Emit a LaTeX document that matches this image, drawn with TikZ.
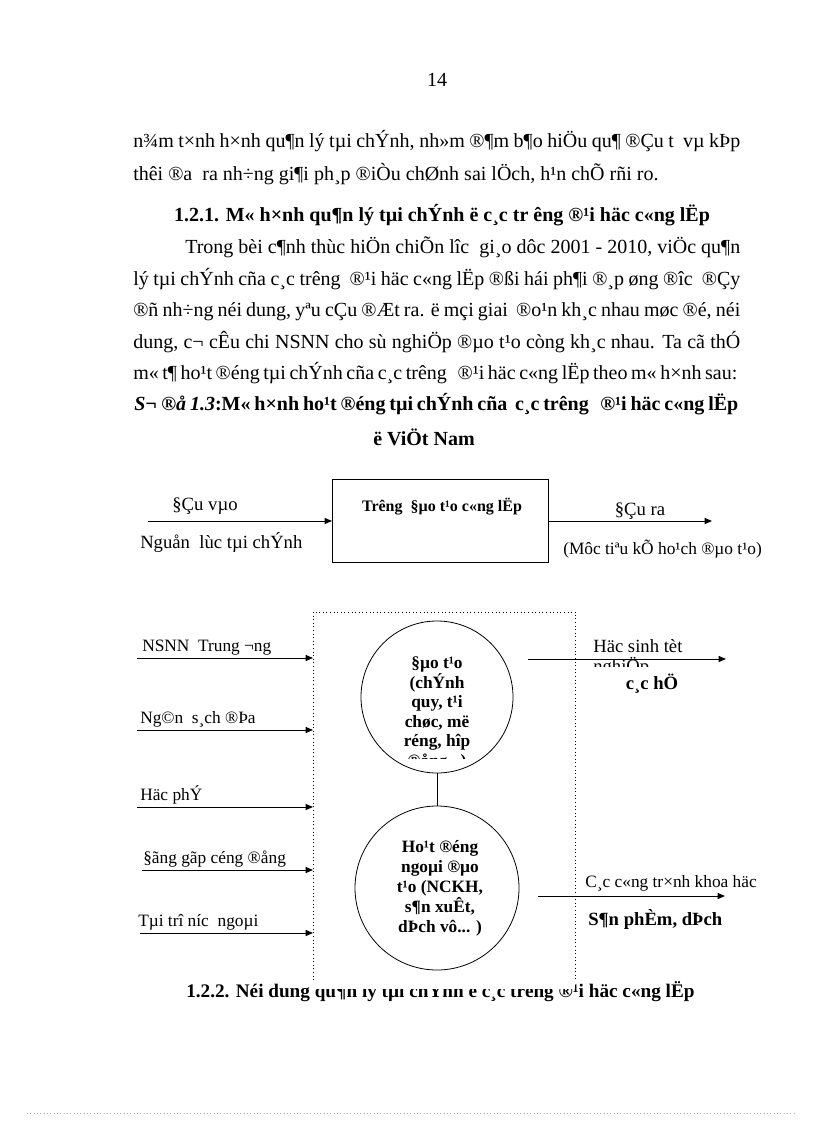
\documentclass[tikz,border=0pt]{standalone}
\usepackage{fontspec}
\setmainfont{Liberation Serif}
\usetikzlibrary{arrows.meta}
\newcommand{\bodyf}{\fontsize{15}{17}\selectfont}
\newcommand{\headtwof}{\fontsize{14.4}{16}\selectfont\bfseries}
\newcommand{\lblf}{\fontsize{13}{15}\selectfont}
\newcommand{\biglblf}{\fontsize{14}{16}\selectfont}
\newcommand{\boxf}{\fontsize{12}{14}\selectfont\bfseries}
\begin{document}
\begin{tikzpicture}[x=0.75pt,y=-0.75pt,
  txt/.style={inner sep=0pt, anchor=base west},
  ctxt/.style={inner sep=0pt, anchor=base},
  arr/.style={-{Triangle[length=5.5pt,width=4.5pt]}, line width=0.75pt},
  circ/.style={circle, draw, line width=0.6pt, inner sep=0pt}]
\useasboundingbox[fill=white] (0,0) rectangle (816,1123);

% page number
\node[ctxt, font=\bodyf] (pg) at (437,87) {14};

% first paragraph end
\node[txt, font=\bodyf] (l1) at (133,148) {\makebox[455.25pt][s]{n¾m t×nh h×nh qu¶n lý tµi chÝnh, nh»m ®¶m b¶o hiÖu qu¶ ®Çu t~~vµ kÞp}};
\node[txt, font=\bodyf] (l2) at (133,181) {thêi ®a~ ra nh÷ng gi¶i ph¸p ®iÒu chØnh sai lÖch, h¹n chÕ rñi ro.};

% heading 1.2.1
\node[ctxt, font=\bodyf\bfseries] (h1) at (442,222) {1.2.1. M« h×nh qu¶n lý tµi chÝnh ë c¸c tr êng ®¹i häc c«ng lËp};

% second paragraph
\node[txt, font=\bodyf] (p1) at (185,253) {\makebox[416.25pt][s]{Trong bèi c¶nh thùc hiÖn chiÕn lîc~ gi¸o dôc 2001 - 2010, viÖc qu¶n}};
\node[txt, font=\bodyf] (p2) at (133,285) {\makebox[455.25pt][s]{lý tµi chÝnh cña c¸c trêng~ ®¹i häc c«ng lËp ®ßi hái ph¶i ®¸p øng ®îc~ ®Çy}};
\node[txt, font=\bodyf] (p3) at (133,316) {\makebox[455.25pt][s]{®ñ nh÷ng néi dung, yªu cÇu ®Æt ra. ë mçi giai~ ®o¹n kh¸c nhau møc ®é, néi}};
\node[txt, font=\bodyf] (p4) at (133,348) {\makebox[455.25pt][s]{dung, c¬ cÊu chi NSNN cho sù nghiÖp ®µo t¹o còng kh¸c nhau. Ta cã thÓ}};
\node[txt, font=\bodyf] (p5) at (133,379) {\makebox[453pt][s]{m« t¶ ho¹t ®éng tµi chÝnh cña c¸c trêng~~ ®¹i häc c«ng lËp theo m« h×nh sau:}};

% caption
\node[txt, font=\bodyf\bfseries] (cap) at (134,410) {\makebox[453pt][s]{\textit{S¬ ®å 1.3}:M« h×nh ho¹t ®éng tµi chÝnh cña~ c¸c trêng~~ ®¹i häc c«ng lËp}};
\node[ctxt, font=\bodyf\bfseries] (cap2) at (424,445) {ë ViÖt Nam};

% ---------- top diagram ----------
\node[draw, line width=0.75pt, minimum width=162pt, minimum height=62.25pt, anchor=north west, inner sep=0pt] (box) at (332,479) {};
\node[ctxt, font=\boxf] (boxt) at (442,511) {Trêng~ §µo t¹o c«ng lËp};
\coordinate (inL) at (148,521);
\coordinate (outR) at (712,521);
\draw[arr] (inL) -- (inL -| box.west);
\draw[arr] (outR -| box.east) -- (outR);
\node[ctxt, font=\biglblf] (in1) at (205,510) {§Çu vµo};
\node[txt, font=\biglblf] (in2) at (140,548) {Nguån~ lùc tµi chÝnh};
\node[ctxt, font=\biglblf] (out1) at (640,515) {§Çu ra};
\node[txt, font=\lblf] (out2) at (563,554) {(Môc tiªu kÕ ho¹ch ®µo t¹o)};

% ---------- heading 1.2.2 (partly covered by the box) ----------
\node[txt, font=\headtwof] (h2) at (186,997) {1.2.2. Néi dung qu¶n lý tµi chÝnh ë c¸c tr­êng ®¹i häc c«ng lËp};

% ---------- lower diagram ----------
\node[fill=white, minimum width=196.5pt, minimum height=282.75pt, anchor=north west, inner sep=0pt] (dbox) at (313,612) {};
\draw[dotted, line width=0.7pt] ([yshift=7pt]dbox.south west) -- (dbox.north west) -- (dbox.north east) -- ([yshift=7pt]dbox.south east);

\node[circ, minimum size=114pt] (c1) at (437,697) {};
\node[circ, minimum size=123pt] (c2) at (437,888) {};
\draw[line width=0.6pt] (c1.south) -- (c2.north);

\begin{scope}
\clip (360,640) rectangle (515,758);
\node[ctxt, font=\lblf\bfseries] (c1a) at (437,668) {§µo t¹o};
\node[ctxt, font=\lblf\bfseries] (c1b) at (437,688) {(chÝnh};
\node[ctxt, font=\lblf\bfseries] (c1c) at (437,707) {quy, t¹i};
\node[ctxt, font=\lblf\bfseries] (c1d) at (437,727) {chøc, më};
\node[ctxt, font=\lblf\bfseries] (c1e) at (437,746) {réng, hîp};
\node[ctxt, font=\lblf\bfseries] (c1f) at (437,766) {®ång...)};
\end{scope}

\node[ctxt, font=\lblf\bfseries] (c2a) at (440,852) {Ho¹t ®éng};
\node[ctxt, font=\lblf\bfseries] (c2b) at (440,872) {ngoµi ®µo};
\node[ctxt, font=\lblf\bfseries] (c2c) at (440,892) {t¹o (NCKH,};
\node[ctxt, font=\lblf\bfseries] (c2d) at (440,912) {s¶n xuÊt,};
\node[ctxt, font=\lblf\bfseries] (c2e) at (440,932) {dÞch vô... )};

% left inputs
\coordinate (a1) at (137,658);
\coordinate (a2) at (137,730);
\coordinate (a3) at (137,807);
\coordinate (a4) at (142,870);
\coordinate (a5) at (140,933);
\draw[arr] (a1) -- (a1 -| dbox.west);
\draw[arr] (a2) -- (a2 -| dbox.west);
\draw[arr] (a3) -- (a3 -| dbox.west);
\draw[arr] (a4) -- (a4 -| dbox.west);
\draw[arr] (a5) -- (a5 -| dbox.west);
\node[txt, font=\lblf] (t1) at (142,651) {NSNN~ Trung ¬ng};
\node[txt, font=\lblf] (t2) at (140,723) {Ng©n~ s¸ch ®Þa};
\node[txt, font=\lblf] (t3) at (140,800) {Häc phÝ};
\node[txt, font=\lblf] (t4) at (143,863) {§ãng gãp céng ®ång};
\node[txt, font=\lblf] (t5) at (138,926) {Tµi trî níc~ ngoµi};

% right outputs
\coordinate (r1s) at (528,659);
\coordinate (r1e) at (726,659);
\coordinate (r2s) at (538,896);
\coordinate (r2e) at (725,896);
\draw[arr] (r1s) -- (r1e);
\draw[arr] (r2s) -- (r2e);
\node[txt, font=\biglblf] (o1) at (593,652) {Häc sinh tèt};
\begin{scope}
\clip (585,655) rectangle (700,666);
\node[txt, font=\biglblf] (o1b) at (593,672) {nghiÖp};
\end{scope}
\node[ctxt, font=\biglblf\bfseries] (o2) at (652,689) {c¸c hÖ};
\node[txt, font=\lblf] (o3) at (585,887) {C¸c c«ng tr×nh khoa häc};
\node[txt, font=\biglblf\bfseries] (o4) at (588,925) {S¶n phÈm, dÞch};

% footer dotted rule
\coordinate (f1) at (27,1113);
\coordinate (f2) at (795,1113);
\draw[black!30, dotted, line width=0.5pt] (f1) -- (f2);
\end{tikzpicture}
\end{document}
